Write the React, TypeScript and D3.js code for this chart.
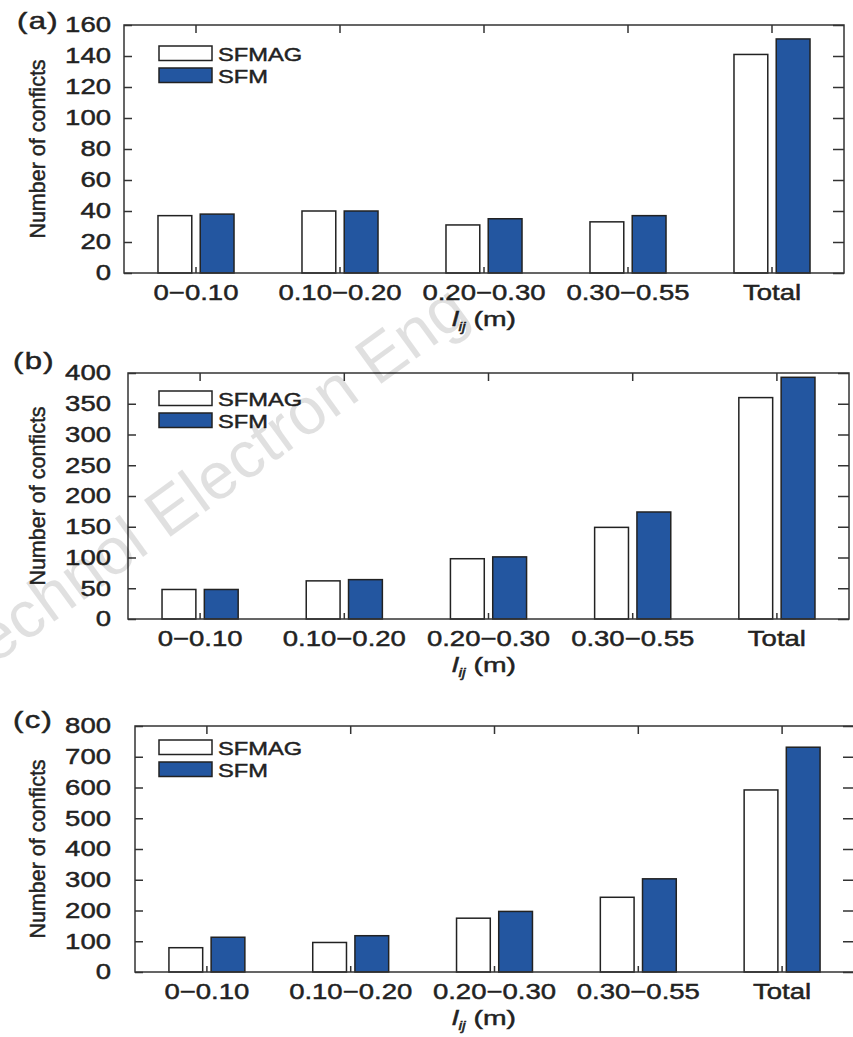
import React, { useRef, useEffect } from 'react';
import * as d3 from 'd3';

// categories and series
const categories = ['0\u22120.10', '0.10\u22120.20', '0.20\u22120.30', '0.30\u22120.55', 'Total'];
const seriesNames = ['SFMAG', 'SFM'];

// panel (a)
const sfmagA = [37, 40, 31, 33, 141];
const sfmA = [38, 40, 35, 37, 151];
const ticksA = [0, 20, 40, 60, 80, 100, 120, 140, 160];

// panel (b)
const sfmagB = [48, 62, 98, 149, 360];
const sfmB = [48, 64, 101, 174, 393];
const ticksB = [0, 50, 100, 150, 200, 250, 300, 350, 400];

// panel (c)
const sfmagC = [79, 96, 175, 243, 592];
const sfmC = [113, 118, 197, 303, 731];
const ticksC = [0, 100, 200, 300, 400, 500, 600, 700, 800];

const panels = [
  { tag: '(a)', sfmag: sfmagA, sfm: sfmA, ticks: ticksA },
  { tag: '(b)', sfmag: sfmagB, sfm: sfmB, ticks: ticksB },
  { tag: '(c)', sfmag: sfmagC, sfm: sfmC, ticks: ticksC },
];

// layout per panel (pixels)
const boxes = [
  { left: 124, right: 844, top: 25, bottom: 273, tagY: 29, legendY: 46 },
  { left: 128, right: 849, top: 373, bottom: 619, tagY: 369, legendY: 391 },
  { left: 135, right: 854, top: 726, bottom: 972, tagY: 728, legendY: 740 },
];

const W = 853;
const H = 1037;
const SX = 1.28; // horizontal stretch of the text in the original
const FONT = '"Liberation Sans", Arial, Helvetica, sans-serif';
const INK = '#222';
const AXIS = '#333';
const BLUE = '#2356a0';
const HEAVY = 0.45; // thin outline to get the heavier look of the original text
const TICK_LABEL_RIGHT = 111;
const TITLE_X = 484;

const App: React.FC = () => {
  const svgRef = useRef<SVGSVGElement | null>(null);

  useEffect(() => {
    if (!svgRef.current) return;
    const svg = d3.select(svgRef.current);
    svg.selectAll('*').remove();

    svg.append('rect').attr('width', W).attr('height', H).attr('fill', '#fff');

    panels.forEach((p, pi) => {
      const b = boxes[pi];
      const g = svg.append('g');
      const maxY = p.ticks[p.ticks.length - 1];

      const x = d3.scaleBand<string>()
        .domain(categories)
        .range([b.left, b.right])
        .padding(0);
      const bw = x.bandwidth();
      const xSub = d3.scaleBand<string>()
        .domain(seriesNames)
        .range([bw * 0.236, bw * 0.764])
        .paddingInner(0.2);
      const y = d3.scaleLinear().domain([0, maxY]).range([b.bottom, b.top]);

      const rows = categories.map((c, i) => ({ cat: c, values: [p.sfmag[i], p.sfm[i]] }));

      // bars
      g.selectAll('g.grp')
        .data(rows)
        .join('g')
        .attr('transform', d => `translate(${x(d.cat)},0)`)
        .selectAll('rect')
        .data(d => d.values.map((v, k) => ({ key: seriesNames[k], v })))
        .join('rect')
        .attr('x', d => xSub(d.key)!)
        .attr('y', d => y(d.v))
        .attr('width', xSub.bandwidth())
        .attr('height', d => y(0) - y(d.v))
        .attr('fill', d => (d.key === 'SFM' ? BLUE : '#fff'))
        .attr('stroke', INK)
        .attr('stroke-width', 1.5);

      // left axis with inward ticks
      const pad = b.left - TICK_LABEL_RIGHT;
      const gl = g.append('g')
        .attr('transform', `translate(${b.left},0)`)
        .call(d3.axisLeft(y).tickValues(p.ticks).tickSizeInner(-8).tickSizeOuter(0).tickPadding(pad));
      gl.select('.domain').remove();
      gl.selectAll('line').attr('stroke', AXIS).attr('stroke-width', 1.5);
      gl.selectAll('text')
        .attr('x', -pad / SX)
        .attr('transform', `scale(${SX},1)`)
        .attr('fill', INK)
        .attr('stroke', INK)
        .attr('stroke-width', HEAVY)
        .attr('font-size', 21.5)
        .attr('font-family', FONT);

      // right axis, ticks only
      const gr = g.append('g')
        .attr('transform', `translate(${b.right},0)`)
        .call(d3.axisRight(y).tickValues(p.ticks).tickSizeInner(-11).tickSizeOuter(0).tickFormat(() => ''));
      gr.select('.domain').remove();
      gr.selectAll('line').attr('stroke', AXIS).attr('stroke-width', 1.5);

      // top axis, ticks only
      const gt = g.append('g')
        .attr('transform', `translate(0,${b.top})`)
        .call(d3.axisTop(x).tickSizeInner(-8).tickSizeOuter(0).tickFormat(() => ''));
      gt.select('.domain').remove();
      gt.selectAll('line').attr('stroke', AXIS).attr('stroke-width', 1.5);

      // bottom axis with category labels
      const gb = g.append('g')
        .attr('transform', `translate(0,${b.bottom})`)
        .call(d3.axisBottom(x).tickSizeInner(-6).tickSizeOuter(0).tickPadding(12));
      gb.select('.domain').remove();
      gb.selectAll('line').attr('stroke', AXIS).attr('stroke-width', 1.5);
      gb.selectAll('.tick text')
        .attr('transform', `scale(${SX},1)`)
        .attr('fill', INK)
        .attr('stroke', INK)
        .attr('stroke-width', HEAVY)
        .attr('font-size', 21.5)
        .attr('font-family', FONT);

      // frame
      g.append('rect')
        .attr('x', b.left)
        .attr('y', b.top)
        .attr('width', b.right - b.left)
        .attr('height', b.bottom - b.top)
        .attr('fill', 'none')
        .attr('stroke', AXIS)
        .attr('stroke-width', 1.5);

      // legend
      seriesNames.forEach((name, k) => {
        const ly = b.legendY + k * 22;
        g.append('rect')
          .attr('x', 159)
          .attr('y', ly)
          .attr('width', 53)
          .attr('height', 14.5)
          .attr('fill', name === 'SFM' ? BLUE : '#fff')
          .attr('stroke', INK)
          .attr('stroke-width', 1.5);
        g.append('text')
          .attr('transform', `translate(218,${ly + 14.5}) scale(${SX},1)`)
          .attr('font-size', 18.5)
          .attr('font-family', FONT)
          .attr('fill', INK)
          .attr('stroke', INK)
          .attr('stroke-width', HEAVY)
          .text(name);
      });

      // panel tag
      g.append('text')
        .attr('transform', `translate(${pi === 0 ? 17 : 13},${b.tagY}) scale(1.35,1)`)
        .attr('font-size', 23)
        .attr('font-family', FONT)
        .attr('letter-spacing', 1)
        .attr('fill', INK)
        .attr('stroke', INK)
        .attr('stroke-width', HEAVY)
        .text(p.tag);

      // y label
      g.append('text')
        .attr('transform', `translate(45,${(b.top + b.bottom) / 2}) rotate(-90)`)
        .attr('text-anchor', 'middle')
        .attr('font-size', 21.5)
        .attr('font-family', FONT)
        .attr('fill', INK)
        .attr('stroke', INK)
        .attr('stroke-width', HEAVY)
        .text('Number of conficts');

      // x title
      const xt = g.append('text')
        .attr('transform', `translate(${TITLE_X},${b.bottom + 53}) scale(1.35,1)`)
        .attr('text-anchor', 'middle')
        .attr('font-size', 21)
        .attr('font-family', FONT)
        .attr('fill', INK)
        .attr('stroke', INK)
        .attr('stroke-width', HEAVY);
      xt.append('tspan').attr('font-style', 'italic').text('l');
      xt.append('tspan').attr('font-style', 'italic').attr('font-size', 12).attr('dy', 5).text('ij');
      xt.append('tspan').attr('dy', -5).text(' (m)');
    });

    // watermark
    svg.append('text')
      .attr('transform', 'translate(472,318) rotate(-36)')
      .attr('text-anchor', 'end')
      .attr('font-size', 66)
      .attr('font-family', FONT)
      .attr('fill', '#000')
      .attr('fill-opacity', 0.12)
      .text('Technol Electron Eng');

    return () => {
      d3.select(svgRef.current).selectAll('*').remove();
    };
  }, []);

  return (
    <svg
      ref={svgRef}
      width={W}
      height={H}
      style={{ position: 'absolute', left: 0, top: 0, display: 'block' }}
    />
  );
};

export default App;
